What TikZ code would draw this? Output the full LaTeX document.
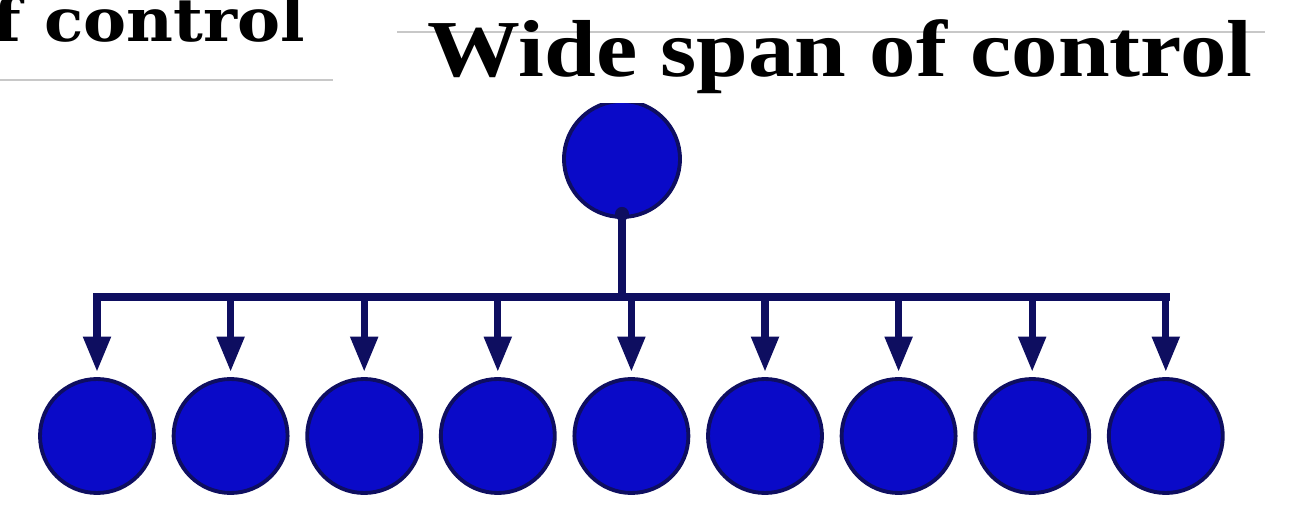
\documentclass[tikz,border=0pt]{standalone}
\usepackage{fontspec}
\usepackage{graphicx}
\newfontfamily\titlefont{Liberation Serif}
\newfontfamily\leftfont{DejaVu Serif}
\usetikzlibrary{arrows.meta}
\definecolor{nodeblue}{RGB}{10,10,200}
\definecolor{navy}{RGB}{14,14,96}
\definecolor{rulegray}{RGB}{200,200,200}
\tikzset{
  person/.style={circle, fill=nodeblue, draw=navy, line width=2.2pt, inner sep=0pt, minimum size=2.28cm},
  boss/.style={person, minimum size=2.32cm},
  conn/.style={draw=navy, line width=4pt},
  drop/.style={conn, -{Triangle[width=15pt,length=20pt]}, shorten >=3pt},
  grayrule/.style={draw=rulegray, line width=1.6pt}
}
\begin{document}
\begin{tikzpicture}[x=0.02cm,y=-0.02cm]
\useasboundingbox[fill=white] (0,0) rectangle (1299,513);
% left fragment
\draw[grayrule] (0,80) -- (333,80);
\node[anchor=base east, inner sep=0pt, font=\leftfont\bfseries\fontsize{34}{34}\selectfont] (lefttitle) at (305,42) {\scalebox{1.08}[1]{f control}};
% right title
\draw[grayrule] (397,32) -- (1265,32);
\node[anchor=base west, inner sep=0pt, font=\titlefont\bfseries\fontsize{46}{46}\selectfont] (title) at (427,77) {\scalebox{1.15}[1]{Wide span of control}};
% nodes
\coordinate (busL) at (97,297);
\coordinate (busR) at (1166,297);
\foreach \i in {1,...,9} {
  \node[person] (b\i) at ({97+133.6*(\i-1)},436) {};
}
\begin{scope}
\clip (0,104) rectangle (1299,513);
\node[boss] (top) at (622,159) {};
\end{scope}
% connectors
\fill[navy] ([yshift=0.1cm]top.south) circle[radius=0.14cm];
\draw[conn] (top.south) -- (top.south |- busL);
\draw[conn, line cap=rect] (busL) -- (busR);
\foreach \i in {1,...,9} {
  \draw[drop] (b\i.north |- busL) -- (b\i.north);
}
\end{tikzpicture}
\end{document}
